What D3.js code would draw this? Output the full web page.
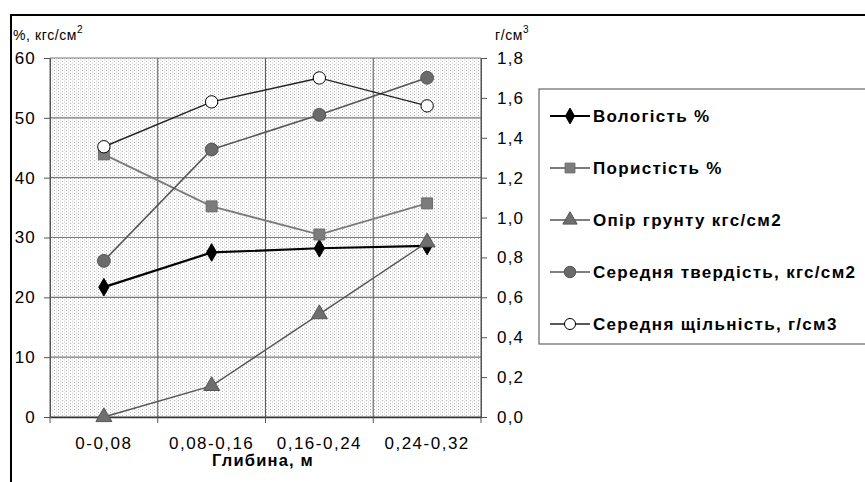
<!DOCTYPE html>
<html>
<head>
<meta charset="utf-8">
<script src="https://cdn.jsdelivr.net/npm/d3@7"></script>
<style>
  body { margin: 0; background: #fff; }
  svg { font-family: "Liberation Sans", Arial, sans-serif; }
</style>
</head>
<body>
<svg id="chart" width="865" height="482"></svg>
<script>
// data
const depths = ["0-0,08", "0,08-0,16", "0,16-0,24", "0,24-0,32"];
const moisture = [21.7, 27.5, 28.2, 28.6];      // Вологість %
const porosity = [43.9, 35.2, 30.5, 35.7];      // Пористість %
const resistance = [0, 5.2, 17.2, 29.2];        // Опір грунту
const hardness = [26.1, 44.7, 50.5, 56.7];      // Середня твердість
const density = [1.355, 1.58, 1.70, 1.56];      // Середня щільність (right axis)
const leftTicks = [0, 10, 20, 30, 40, 50, 60];
const rightTicks = [0, 0.2, 0.4, 0.6, 0.8, 1.0, 1.2, 1.4, 1.6, 1.8];

const svg = d3.select("#chart");
const margin = { top: 58, right: 384, bottom: 65, left: 50 };
const width = 865 - margin.left - margin.right;
const height = 482 - margin.top - margin.bottom;

// stipple pattern for plot background
const defs = svg.append("defs");
const pat = defs.append("pattern")
  .attr("id", "dots")
  .attr("width", 4).attr("height", 3)
  .attr("patternUnits", "userSpaceOnUse");
pat.append("rect").attr("width", 4).attr("height", 3).attr("fill", "#fff");
pat.append("rect").attr("x", 0).attr("y", 0).attr("width", 1).attr("height", 1).attr("fill", "#b0b0b0");
pat.append("rect").attr("x", 2).attr("y", 1.5).attr("width", 1).attr("height", 1).attr("fill", "#c8c8c8");

// outer frame
svg.append("rect")
  .attr("x", 11).attr("y", 15)
  .attr("width", 870).attr("height", 480)
  .attr("fill", "none")
  .attr("stroke", "#000")
  .attr("stroke-width", 2);

const chart = svg.append("g")
  .attr("transform", `translate(${margin.left},${margin.top})`);

const x = d3.scaleBand().domain(depths).range([0, width]);
const yL = d3.scaleLinear().domain([0, 60]).range([height, 0]);
const yR = d3.scaleLinear().domain([0, 1.8]).range([height, 0]);

chart.append("rect")
  .attr("width", width).attr("height", height)
  .attr("fill", "url(#dots)");

// gridlines
chart.selectAll(".hgrid")
  .data(leftTicks)
  .enter().append("line")
  .attr("x1", 0).attr("x2", width)
  .attr("y1", d => yL(d)).attr("y2", d => yL(d))
  .attr("stroke", "#7a7a7a").attr("stroke-width", 1.2);

const bounds = depths.map(d => x(d)).concat([width]);
chart.selectAll(".vgrid")
  .data(bounds)
  .enter().append("line")
  .attr("x1", d => d).attr("x2", d => d)
  .attr("y1", 0).attr("y2", height)
  .attr("stroke", "#5a5a5a").attr("stroke-width", 1);

// axes
const leftAxis = chart.append("g")
  .call(d3.axisLeft(yL).tickValues(leftTicks).tickSize(6).tickPadding(8));
const rightAxis = chart.append("g")
  .attr("transform", `translate(${width},0)`)
  .call(d3.axisRight(yR).tickValues(rightTicks).tickSize(6).tickPadding(10)
    .tickFormat(d => d3.format(".1f")(d).replace(".", ",")));
const bottomAxis = chart.append("g")
  .attr("transform", `translate(0,${height})`)
  .call(d3.axisBottom(x).tickSize(0).tickPadding(20));
// category boundary ticks
chart.selectAll(".btick")
  .data(bounds)
  .enter().append("line")
  .attr("x1", d => d).attr("x2", d => d)
  .attr("y1", height).attr("y2", height + 6)
  .attr("stroke", "#555");

[leftAxis, rightAxis, bottomAxis].forEach(a => {
  a.selectAll("path").attr("stroke", "#555");
  a.selectAll("line").attr("stroke", "#555");
  a.selectAll("text").attr("fill", "#000")
    .style("font-size", "17px").style("letter-spacing", "1.2px")
    .style("font-family", "'Liberation Sans', Arial, sans-serif");
});
bottomAxis.selectAll("text").style("letter-spacing", "1.5px");
bottomAxis.select(".domain").attr("stroke", "#333").attr("stroke-width", 1.5);

// axis titles
const tl = svg.append("text").attr("x", 13).attr("y", 40)
  .style("font-size", "14px").style("letter-spacing", "0.6px");
tl.append("tspan").text("%, кгс/см");
tl.append("tspan").attr("dy", -7).style("font-size", "10px").text("2");
const tr = svg.append("text").attr("x", 495).attr("y", 40)
  .style("font-size", "14px").style("letter-spacing", "0.6px");
tr.append("tspan").text("г/см");
tr.append("tspan").attr("dy", -7).style("font-size", "10px").text("3");

svg.append("text")
  .attr("x", 263).attr("y", 466)
  .attr("text-anchor", "middle")
  .style("font-size", "16.5px").style("font-weight", "bold")
  .style("letter-spacing", "1.2px")
  .text("Глибина, м");

// series
const series = [
  { name: "Вологість %", values: moisture, scale: yL, line: "#000", lw: 2.2, shape: d3.symbolDiamond, size: 90, fill: "#000", stroke: "#000" },
  { name: "Пористість %", values: porosity, scale: yL, line: "#7a7a7a", lw: 1.8, shape: d3.symbolSquare, size: 120, fill: "#7c7c7c", stroke: "#6a6a6a" },
  { name: "Опір грунту кгс/см2", values: resistance, scale: yL, line: "#555", lw: 1.4, shape: d3.symbolTriangle, size: 110, fill: "#6e6e6e", stroke: "#555" },
  { name: "Середня твердість, кгс/см2", values: hardness, scale: yL, line: "#555", lw: 1.6, shape: d3.symbolCircle, size: 130, fill: "#6a6a6a", stroke: "#555" },
  { name: "Середня щільність, г/см3", values: density, scale: yR, line: "#222", lw: 1.4, shape: d3.symbolCircle, size: 120, fill: "#fff", stroke: "#000" }
];

const cx = d => x(d) + x.bandwidth() / 2;

series.forEach(s => {
  const pts = depths.map((d, i) => [cx(d), s.scale(s.values[i])]);
  chart.append("path")
    .datum(pts)
    .attr("fill", "none")
    .attr("stroke", s.line)
    .attr("stroke-width", s.lw)
    .attr("d", d3.line());
  chart.selectAll(null)
    .data(pts)
    .enter().append("path")
    .attr("transform", p => `translate(${p[0]},${p[1]})`)
    .attr("d", d3.symbol().type(s.shape).size(s.size))
    .attr("fill", s.fill)
    .attr("stroke", s.stroke)
    .attr("stroke-width", 1);
});

// legend
const legend = svg.append("g").attr("transform", "translate(539,89)");
legend.append("rect")
  .attr("width", 340).attr("height", 255)
  .attr("fill", "#fff")
  .attr("stroke", "#666").attr("stroke-width", 1.2);
series.forEach((s, i) => {
  const g = legend.append("g").attr("transform", `translate(0,${27 + i * 52})`);
  g.append("line")
    .attr("x1", 11).attr("x2", 51)
    .attr("stroke", s.line).attr("stroke-width", s.lw);
  g.append("path")
    .attr("transform", "translate(31,0)")
    .attr("d", d3.symbol().type(s.shape).size(s.size * 0.8))
    .attr("fill", s.fill).attr("stroke", s.stroke);
  g.append("text")
    .attr("x", 54).attr("dy", "0.35em")
    .style("font-size", "17px").style("font-weight", "bold")
    .style("letter-spacing", "1.3px")
    .text(s.name);
});
</script>
</body>
</html>
